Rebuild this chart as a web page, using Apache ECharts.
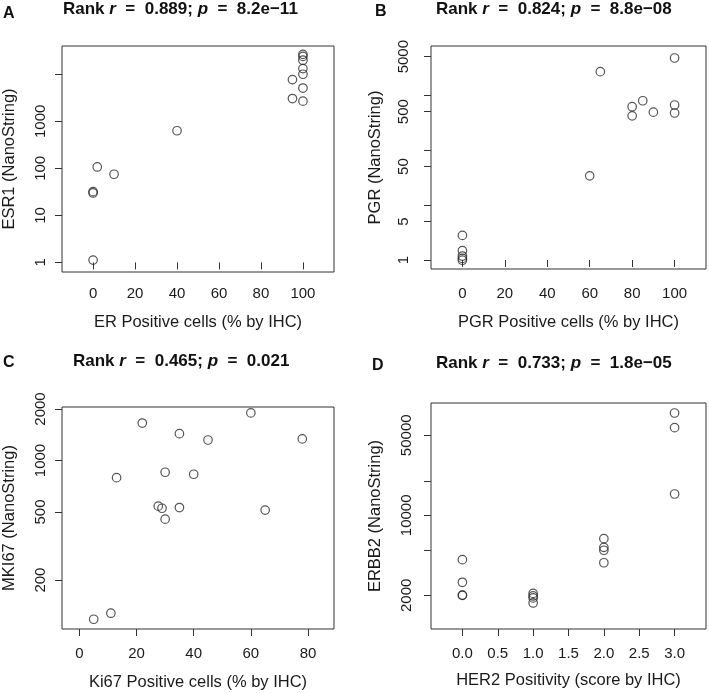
<!DOCTYPE html>
<html>
<head>
<meta charset="utf-8">
<script src="https://cdn.jsdelivr.net/npm/echarts@6/dist/echarts.min.js"></script>
<style>
html,body{margin:0;padding:0;background:#fff;}
#chart{width:709px;height:693px;}
</style>
</head>
<body>
<div id="chart"></div>
<script>
// ---------- Data ----------
// Panel A: ER IHC vs ESR1
const erPositive = [0, 0, 0, 2, 10, 40, 95, 95, 100, 100, 100, 100, 100, 100, 100];
const esr1 = [1.12, 30, 32, 107, 75, 630, 3050, 7700, 2680, 5100, 10000, 13200, 19900, 24000, 26500];
// Panel B: PGR IHC vs PGR
const pgrPositive = [0, 0, 0, 0, 0, 60, 65, 80, 80, 85, 90, 100, 100, 100];
const pgr = [2.8, 1.48, 1.18, 1.07, 0.99, 34, 2670, 615, 420, 790, 490, 4730, 660, 472];
// Panel C: Ki67 IHC vs MKI67
const ki67Positive = [5, 11, 13, 22, 27.6, 28.9, 30, 30, 35, 35, 40, 45, 60, 65, 78];
const mki67 = [118, 128, 794, 1656, 541, 526, 454, 854, 531, 1435, 831, 1318, 1897, 513, 1337];
// Panel D: HER2 IHC score vs ERBB2
const her2Score = [0, 0, 0, 0, 1, 1, 1, 1, 2, 2, 2, 2, 3, 3, 3];
const erbb2 = [4100, 2600, 2000, 2010, 2080, 1975, 1900, 1715, 6250, 5250, 4950, 3850, 78300, 58300, 15350];

// Tick values
const pctTicks = [0, 20, 40, 60, 80, 100];
const ki67Ticks = [0, 20, 40, 60, 80];
const her2Ticks = [0, 0.5, 1, 1.5, 2, 2.5, 3];
const esr1Ticks = [1, 10, 100, 1000, 10000];
const esr1Labels = [1, 10, 100, 1000];
const pgrTicks = [1, 5, 10, 50, 100, 500, 1000, 5000];
const pgrLabels = [1, 5, 50, 500, 5000];
const mki67Ticks = [200, 500, 1000, 2000];
const mki67Labels = [200, 500, 1000, 2000];
const erbb2Ticks = [2000, 5000, 10000, 20000, 50000];
const erbb2Labels = [2000, 10000, 50000];

// Titles
const panelLetters = ['A', 'B', 'C', 'D'];
const rankR = ['0.889', '0.824', '0.465', '0.733'];
const pVals = ['8.2e\u221211', '8.8e\u221208', '0.021', '1.8e\u221205'];
const xNames = ['ER Positive cells (% by IHC)', 'PGR Positive cells (% by IHC)', 'Ki67 Positive cells (% by IHC)', 'HER2 Positivity (score by IHC)'];
const yNames = ['ESR1 (NanoString)', 'PGR (NanoString)', 'MKI67 (NanoString)', 'ERBB2 (NanoString)'];

// ---------- Layout ----------
const FONT = 'Liberation Sans, Arial, Helvetica, sans-serif';
const TXT = '#1a1a1a';
const panels = [
  {grid: {left: 59, top: 46, width: 275, height: 226}, xMin: -14.8, xMax: 114.8, xTicks: pctTicks, xFmt: v => String(v),
   yMin: 0.626, yMax: 39900, yTicks: esr1Ticks, yLabels: esr1Labels, x: erPositive, y: esr1,
   xLabMargin: 14, xNameGap: 42, yLabMargin: 14, yNameGap: 44, titleLeft: 63, titleTop: 1, letterLeft: 3, letterTop: 6},
  {grid: {left: 431, top: 46, width: 275, height: 223}, xMin: -14.8, xMax: 114.8, xTicks: pctTicks, xFmt: v => String(v),
   yMin: 0.686, yMax: 7820, yTicks: pgrTicks, yLabels: pgrLabels, x: pgrPositive, y: pgr,
   xLabMargin: 17, xNameGap: 45, yLabMargin: 20, yNameGap: 47, titleLeft: 436, titleTop: 1, letterLeft: 375, letterTop: 4},
  {grid: {left: 59, top: 407, width: 275, height: 222}, xMin: -6.1, xMax: 89.1, xTicks: ki67Ticks, xFmt: v => String(v),
   yMin: 103.5, yMax: 2055, yTicks: mki67Ticks, yLabels: mki67Labels, x: ki67Positive, y: mki67,
   xLabMargin: 17, xNameGap: 45, yLabMargin: 14, yNameGap: 44, titleLeft: 73, titleTop: 353, letterLeft: 3, letterTop: 355},
  {grid: {left: 431, top: 403, width: 275, height: 226}, xMin: -0.444, xMax: 3.444, xTicks: her2Ticks, xFmt: v => v.toFixed(1),
   yMin: 1016, yMax: 95700, yTicks: erbb2Ticks, yLabels: erbb2Labels, x: her2Score, y: erbb2,
   xLabMargin: 17, xNameGap: 43, yLabMargin: 17, yNameGap: 47, titleLeft: 436, titleTop: 355, letterLeft: 372, letterTop: 358}
];

const grid = [], xAxis = [], yAxis = [], series = [], title = [];
panels.forEach((p, i) => {
  grid.push(Object.assign({show: true, borderColor: '#333', borderWidth: 1, backgroundColor: 'transparent', containLabel: false}, p.grid));
  xAxis.push({
    type: 'value', gridIndex: i, min: p.xMin, max: p.xMax,
    axisLine: {show: false},
    axisTick: {show: true, length: 7, lineStyle: {color: '#333'}, customValues: p.xTicks},
    axisLabel: {show: true, customValues: p.xTicks, formatter: p.xFmt, color: TXT, fontSize: 15, fontFamily: FONT, margin: p.xLabMargin},
    splitLine: {show: false},
    name: xNames[i], nameLocation: 'middle', nameGap: p.xNameGap,
    nameTextStyle: {color: TXT, fontSize: 16.5, fontFamily: FONT}
  });
  // data (log) axis, hidden
  yAxis.push({
    type: 'log', logBase: 10, gridIndex: i, min: p.yMin, max: p.yMax, show: false, position: 'left',
    splitLine: {show: false}
  });
  // display axis in log10 units (ticks + name); labels drawn rotated below
  const lt = p.yTicks.map(v => Math.log10(v));
  yAxis.push({
    type: 'value', gridIndex: i, position: 'left', min: Math.log10(p.yMin), max: Math.log10(p.yMax),
    axisLine: {show: false},
    axisTick: {show: true, length: 7, lineStyle: {color: '#333'}, customValues: lt},
    axisLabel: {show: false},
    splitLine: {show: false},
    name: yNames[i], nameLocation: 'middle', nameGap: p.yNameGap,
    nameTextStyle: {color: TXT, fontSize: 16.5, fontFamily: FONT}
  });
  series.push({
    type: 'scatter', xAxisIndex: i, yAxisIndex: 2 * i,
    data: p.x.map((xv, k) => [xv, p.y[k]]),
    symbol: 'circle', symbolSize: 8.5,
    itemStyle: {color: 'rgba(0,0,0,0)', borderColor: '#2b2b2b', borderWidth: 1.2},
    emphasis: {disabled: true},
    silent: true
  });
  title.push({
    left: p.letterLeft, top: p.letterTop, padding: 0,
    text: panelLetters[i],
    textStyle: {fontSize: 16, fontWeight: 'bold', fontFamily: FONT, color: '#111'}
  });
  title.push({
    left: p.titleLeft, top: p.titleTop, padding: 0,
    text: '{b|Rank }{i|r}{b|  =  ' + rankR[i] + '; }{i|p}{b|  =  ' + pVals[i] + '}',
    textStyle: {
      rich: {
        b: {fontSize: 17, fontWeight: 'bold', fontFamily: FONT, color: '#111'},
        i: {fontSize: 17, fontWeight: 'bold', fontStyle: 'italic', fontFamily: FONT, color: '#111'}
      }
    }
  });
});

const chart = echarts.init(document.getElementById('chart'), null, {renderer: 'canvas'});
chart.setOption({animation: false, backgroundColor: '#fff', title, grid, xAxis, yAxis, series});

// Rotated y tick labels (parallel to the axis, as in R), positioned via the axis scales
const labelEls = [];
panels.forEach((p, i) => {
  const xLeft = chart.convertToPixel({xAxisIndex: i}, p.xMin);
  p.yLabels.forEach(v => {
    const py = chart.convertToPixel({yAxisIndex: 2 * i}, v);
    labelEls.push({
      type: 'text', x: xLeft - p.yLabMargin, y: py, rotation: Math.PI / 2, silent: true,
      style: {text: String(v), fill: TXT, font: '15px ' + FONT, align: 'center', verticalAlign: 'bottom'}
    });
  });
});
chart.setOption({graphic: labelEls});
</script>
</body>
</html>
